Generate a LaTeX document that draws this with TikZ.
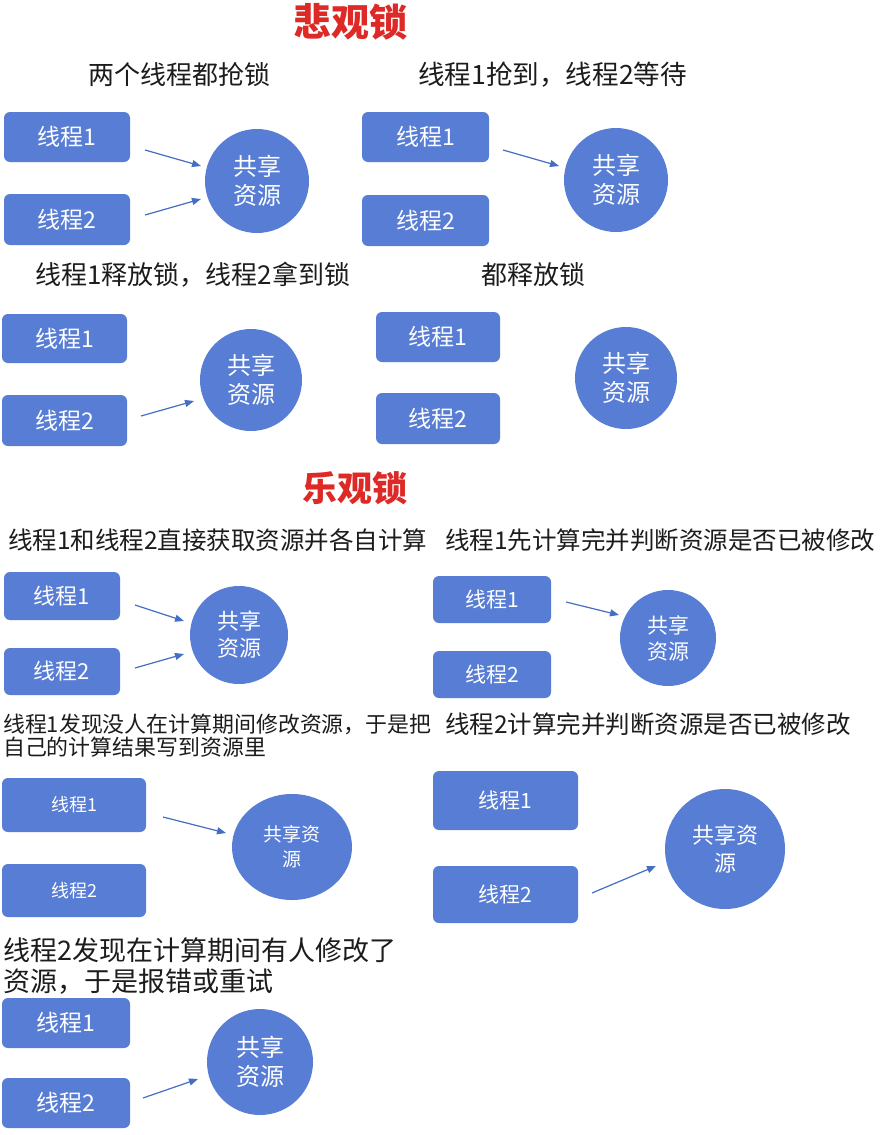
\documentclass[tikz,border=0pt]{standalone}
\usepackage{fontspec}
\setmainfont{Noto Sans CJK SC}
\usetikzlibrary{shapes.geometric,arrows.meta}
\definecolor{boxblue}{RGB}{88,125,213}
\definecolor{arrowblue}{RGB}{68,110,196}
\definecolor{titlered}{RGB}{222,42,38}
\definecolor{headgray}{RGB}{28,28,28}
\tikzset{
  thread/.style={rectangle, rounded corners=6pt, fill=boxblue, text=white, inner sep=0pt},
  res/.style={circle, fill=boxblue, text=white, align=center, inner sep=0pt},
  resell/.style={ellipse, fill=boxblue, text=white, align=center, inner sep=0pt},
  head/.style={anchor=west, text=headgray, inner sep=0pt},
  title/.style={text=titlered, inner sep=0pt, font=\bfseries},
  arr/.style={draw=arrowblue, line width=1.2pt, -{Triangle[length=9pt,width=7pt]}}
}
\newcommand{\fs}[2]{\fontsize{#1}{#2}\selectfont}
\begin{document}
\begin{tikzpicture}[x=1pt,y=-1pt]
\useasboundingbox (0,0) rectangle (883,1135);
\fill[white] (0,0) rectangle (883,1135);

% ===== 悲观锁 =====
\node[title, font=\bfseries\fs{38}{40}] (t1) at (350,22) {悲观锁};

% Panel A
\node[head, font=\fs{26}{30}] (hA) at (88,75) {两个线程都抢锁};
\node[thread, minimum width=126, minimum height=50, font=\fs{23}{26}] (a1) at (67,137) {线程1};
\node[thread, minimum width=126, minimum height=51, font=\fs{23}{26}] (a2) at (67,219.5) {线程2};
\node[res, minimum size=104, font=\fs{24}{29}] (ac) at (257,181) {共享\\资源};
\coordinate (a1s) at (145,150); \coordinate (a1e) at (201,166);
\coordinate (a2s) at (145,215); \coordinate (a2e) at (201,199);
\draw[arr] (a1s) -- (a1e);
\draw[arr] (a2s) -- (a2e);

% Panel B
\node[head, font=\fs{26.6}{30}] (hB) at (418,75) {线程1抢到，线程2等待};
\node[thread, minimum width=127, minimum height=50, font=\fs{23}{26}] (b1) at (425.5,137) {线程1};
\node[thread, minimum width=127, minimum height=51, font=\fs{23}{26}] (b2) at (425.5,220.5) {线程2};
\node[res, minimum size=104, font=\fs{24}{29}] (bc) at (616,180) {共享\\资源};
\coordinate (b1s) at (503,150); \coordinate (b1e) at (559,166);
\draw[arr] (b1s) -- (b1e);

% Panel C
\node[head, font=\fs{26}{30}] (hC) at (35,275) {线程1释放锁，线程2拿到锁};
\node[thread, minimum width=125, minimum height=49, font=\fs{23}{26}] (c1) at (64.5,338.5) {线程1};
\node[thread, minimum width=125, minimum height=51, font=\fs{23}{26}] (c2) at (64.5,420.5) {线程2};
\node[res, minimum size=102, font=\fs{24}{29}] (cc) at (251,380) {共享\\资源};
\coordinate (c2s) at (141,416); \coordinate (c2e) at (194,401);
\draw[arr] (c2s) -- (c2e);

% Panel D
\node[head, font=\fs{26}{30}] (hD) at (481,275) {都释放锁};
\node[thread, minimum width=124, minimum height=50, font=\fs{23}{26}] (d1) at (438,337) {线程1};
\node[thread, minimum width=124, minimum height=51, font=\fs{23}{26}] (d2) at (438,418.5) {线程2};
\node[res, minimum size=102, font=\fs{24}{29}] (dc) at (626,378) {共享\\资源};

% ===== 乐观锁 =====
\node[title, font=\bfseries\fs{35}{38}] (t2) at (355,488) {乐观锁};

% Panel E
\node[head, font=\fs{24.5}{28}] (hE) at (8,540) {线程1和线程2直接获取资源并各自计算};
\node[thread, minimum width=116, minimum height=48, font=\fs{22}{25}] (e1) at (62,596) {线程1};
\node[thread, minimum width=116, minimum height=47, font=\fs{22}{25}] (e2) at (62,671.5) {线程2};
\node[res, minimum size=98, font=\fs{22}{27}] (ec) at (239,635) {共享\\资源};
\coordinate (e1s) at (135,605); \coordinate (e1e) at (184,621);
\coordinate (e2s) at (135,668); \coordinate (e2e) at (184,654);
\draw[arr] (e1s) -- (e1e);
\draw[arr] (e2s) -- (e2e);

% Panel F
\node[head, font=\fs{24.5}{28}] (hF) at (445,540) {线程1先计算完并判断资源是否已被修改};
\node[thread, minimum width=118, minimum height=47, font=\fs{21}{24}] (f1) at (492,599.5) {线程1};
\node[thread, minimum width=118, minimum height=47, font=\fs{21}{24}] (f2) at (492,674.5) {线程2};
\node[res, minimum size=96, font=\fs{21}{26}] (fc) at (668,638) {共享\\资源};
\coordinate (f1s) at (566,602); \coordinate (f1e) at (619,615);
\draw[arr] (f1s) -- (f1e);

% Panel G
\node[head, font=\fs{21.9}{26}] (hG1) at (3,724) {线程1发现没人在计算期间修改资源，于是把};
\node[head, font=\fs{21.9}{26}] (hG2) at (3,747) {自己的计算结果写到资源里};
\node[thread, minimum width=144, minimum height=54, font=\fs{18}{21}] (g1) at (74,805) {线程1};
\node[thread, minimum width=144, minimum height=53, font=\fs{18}{21}] (g2) at (74,890.5) {线程2};
\node[resell, minimum width=120, minimum height=106, font=\fs{19}{25}] (gc) at (292,847) {共享资\\源};
\coordinate (g1s) at (163,817); \coordinate (g1e) at (226,833);
\draw[arr] (g1s) -- (g1e);

% Panel H
\node[head, font=\fs{24.5}{28}] (hH) at (445,724) {线程2计算完并判断资源是否已被修改};
\node[thread, minimum width=145, minimum height=59, font=\fs{21}{24}] (h1) at (505.5,800.5) {线程1};
\node[thread, minimum width=145, minimum height=57, font=\fs{21}{24}] (h2) at (505.5,894.5) {线程2};
\node[res, minimum size=120, font=\fs{22}{28}] (hc) at (725,849) {共享资\\源};
\coordinate (h2s) at (592,893); \coordinate (h2e) at (656,866);
\draw[arr] (h2s) -- (h2e);

% Panel I
\node[head, font=\fs{27}{30}] (hI1) at (3,950) {线程2发现在计算期间有人修改了};
\node[head, font=\fs{27}{30}] (hI2) at (3,982) {资源，于是报错或重试};
\node[thread, minimum width=128, minimum height=50, font=\fs{23}{26}] (i1) at (66,1023) {线程1};
\node[thread, minimum width=128, minimum height=50, font=\fs{23}{26}] (i2) at (66,1103) {线程2};
\node[res, minimum size=106, font=\fs{24}{29}] (ic) at (260,1062) {共享\\资源};
\coordinate (i2s) at (143,1098); \coordinate (i2e) at (198,1079);
\draw[arr] (i2s) -- (i2e);
\end{tikzpicture}
\end{document}
